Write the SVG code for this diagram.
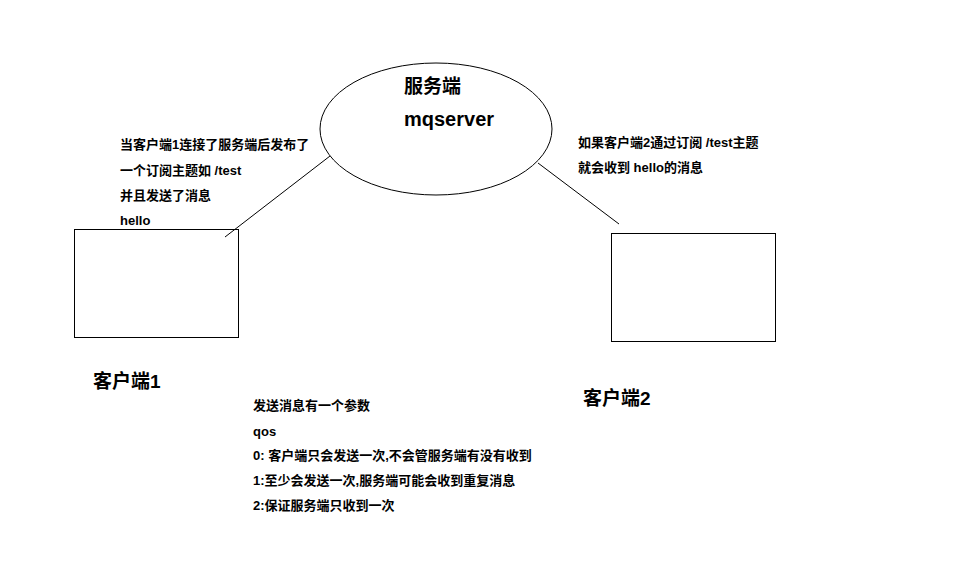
<svg xmlns="http://www.w3.org/2000/svg" width="954" height="578" viewBox="0 0 954 578">
<style>
.s{fill:none;stroke:#000;stroke-width:1}
.t{font-family:"Liberation Sans","Noto Sans CJK SC",sans-serif;font-weight:bold;fill:#000;font-size:13px}
.b{font-size:19px}
</style>
<rect width="954" height="578" fill="#fff"/>
<g id="connectors">
<line class="s" x1="330" y1="156" x2="225" y2="237"/>
<line class="s" x1="538" y1="163" x2="619" y2="224"/>
</g>
<g id="server">
<ellipse class="s" cx="436" cy="129" rx="116" ry="66"/>
<text class="t b" x="404" y="93">服务端</text>
<text class="t b" x="404" y="126" style="font-size:20px">mqserver</text>
</g>
<g id="client1">
<rect class="s" x="74.500" y="229.500" width="164" height="108"/>
<text class="t b" x="93" y="388">客户端1</text>
</g>
<g id="client2">
<rect class="s" x="611.500" y="233.500" width="164" height="108"/>
<text class="t b" x="583" y="405">客户端2</text>
</g>
<g id="notes">
<text class="t" x="120" y="149">当客户端1连接了服务端后发布了</text>
<text class="t" x="120" y="175">一个订阅主题如 /test</text>
<text class="t" x="120" y="200">并且发送了消息</text>
<text class="t" x="120" y="225">hello</text>
<text class="t" x="578" y="147">如果客户端2通过订阅 /test主题</text>
<text class="t" x="578" y="172">就会收到 hello的消息</text>
<text class="t" x="253" y="410">发送消息有一个参数</text>
<text class="t" x="253" y="436">qos</text>
<text class="t" x="253" y="460">0: 客户端只会发送一次,不会管服务端有没有收到</text>
<text class="t" x="253" y="485">1:至少会发送一次,服务端可能会收到重复消息</text>
<text class="t" x="253" y="510">2:保证服务端只收到一次</text>
</g>
</svg>
